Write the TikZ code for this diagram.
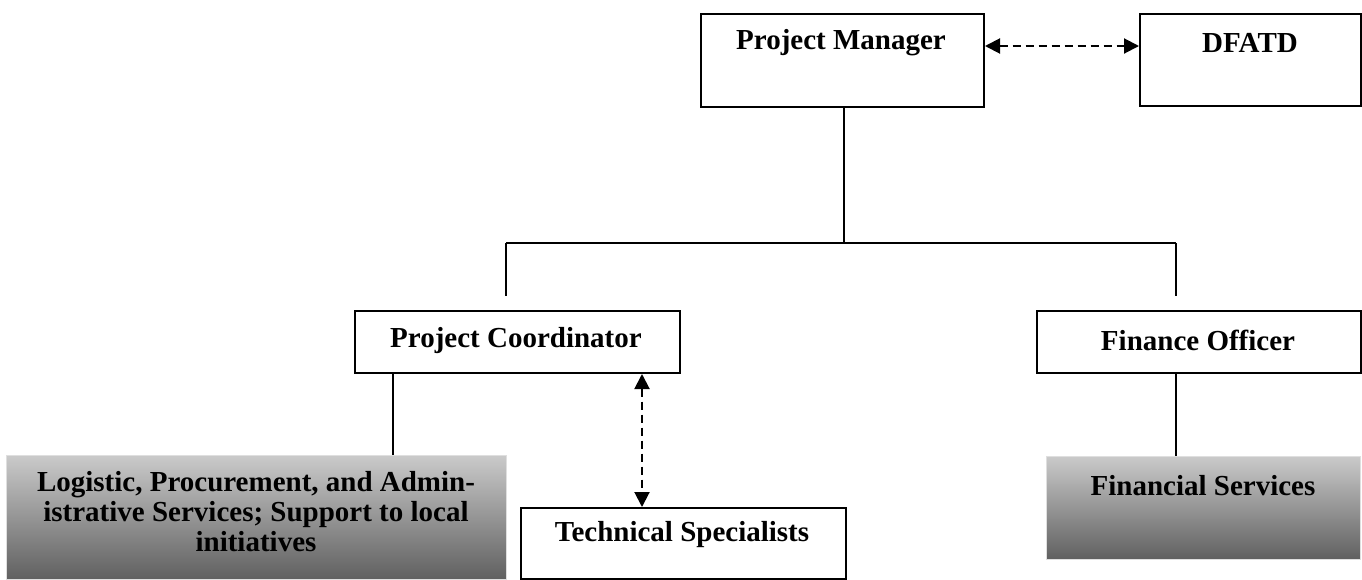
\documentclass[tikz,border=0pt]{standalone}
\usepackage{fontspec}
\setmainfont{Liberation Serif}
\usetikzlibrary{arrows.meta,calc}
\definecolor{gtop}{RGB}{202,202,202}
\definecolor{gbot}{RGB}{96,96,96}
\begin{document}
\begin{tikzpicture}[x=1pt,y=-1pt,
  box/.style={draw=black,line width=2pt,anchor=north west,inner sep=0pt},
  shadebox/.style={draw=gray!25,line width=0.6pt,anchor=north west,inner sep=0pt,top color=gtop,bottom color=gbot},
  lbl/.style={font=\fontsize{29}{30}\selectfont\bfseries,align=center,inner sep=0pt},
  conn/.style={line width=1.6pt},
  dasharrow/.style={line width=2pt,dash pattern=on 8pt off 5pt,{Triangle[length=15pt,width=15pt]}-{Triangle[length=15pt,width=15pt]}}
]
\useasboundingbox (0,0) rectangle (1362,579);
% boxes
\node[box,minimum width=283pt,minimum height=93pt] (pm) at (700,13) {};
\node[box,minimum width=221pt,minimum height=92pt] (dfatd) at (1139,13) {};
\node[box,minimum width=325pt,minimum height=62pt] (pc) at (354,310) {};
\node[box,minimum width=324pt,minimum height=62pt] (fo) at (1036,310) {};
\node[shadebox,minimum width=500pt,minimum height=124pt] (lg) at (6,455) {};
\node[box,minimum width=325pt,minimum height=71pt] (ts) at (520,507) {};
\node[shadebox,minimum width=314pt,minimum height=103pt] (fs) at (1046,456) {};
% texts
\node[lbl] (pmt) at (841,43) {Project Manager};
\node[lbl] (dft) at (1250,43) {DFATD};
\node[lbl] (pct) at (516,341) {Project Coordinator};
\node[lbl] (fot) at (1198,340) {Finance Officer};
\node[lbl] (lgt) at (256,512) {Logistic, Procurement, and Admin-\\istrative Services; Support to local\\initiatives};
\node[lbl] (tst) at (682,535) {Technical Specialists};
\node[lbl] (fst) at (1203,486) {Financial Services};
% tree coordinates
\coordinate (hub) at (844,243);
\coordinate (jl) at (506,243);
\coordinate (jr) at (1176,243);
\coordinate (dl) at (506,296);
\coordinate (dr) at (1176,296);
\coordinate (cl) at (393,0);
\coordinate (ca) at (642,0);
% connectors
\draw[dasharrow] ([yshift=14.5pt]pm.east) -- ([yshift=14.5pt]pm.east -| dfatd.west);
\draw[conn] (pm.south -| hub) -- (hub);
\draw[conn] (jl) -- (jr);
\draw[conn] (jl) -- (dl);
\draw[conn] (jr) -- (dr);
\draw[conn] (pc.south -| cl) -- (lg.north -| cl);
\draw[dasharrow] (pc.south -| ca) -- (ts.north -| ca);
\draw[conn] (fo.south -| jr) -- (fs.north -| jr);
\end{tikzpicture}
\end{document}
